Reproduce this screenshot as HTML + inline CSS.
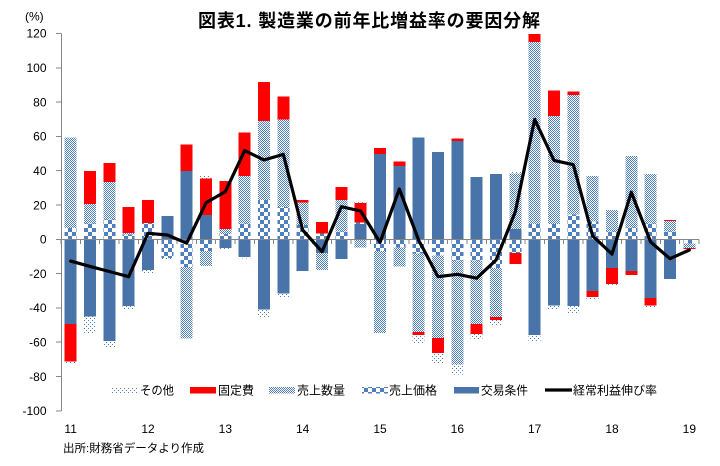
<!DOCTYPE html>
<html><head><meta charset="utf-8"><style>
html,body{margin:0;padding:0;background:#fff;}
svg{display:block;}
text{font-family:"Liberation Sans","Noto Sans CJK JP",sans-serif;fill:#000;}
</style></head><body>
<svg width="720" height="466" viewBox="0 0 720 466" xmlns="http://www.w3.org/2000/svg">
<defs>
<pattern id="pP" width="8" height="8" patternUnits="userSpaceOnUse"><rect width="8" height="8" fill="#fff"/><rect width="4" height="4" fill="#4f7fbd"/><rect x="4" y="4" width="4" height="4" fill="#4f7fbd"/></pattern>
<pattern id="pQ" width="2" height="2" patternUnits="userSpaceOnUse"><rect width="2" height="2" fill="#fff"/><rect width="1" height="1" fill="#4f7fbd"/><rect x="1" y="1" width="1" height="1" fill="#4f7fbd"/></pattern>
<pattern id="pO" width="4" height="4" patternUnits="userSpaceOnUse"><rect width="4" height="4" fill="#fff"/><rect width="1" height="1" fill="#4f7fbd"/><rect x="2" y="2" width="1" height="1" fill="#4f7fbd"/></pattern>

<mask id="mP" maskUnits="userSpaceOnUse" x="0" y="0" width="720" height="466">
<g transform="translate(0,239.5) scale(1,-1.7155)" fill="#fff" shape-rendering="crispEdges">
<rect x="64.67" y="0" width="12" height="6.8"/>
<rect x="84" y="0" width="12" height="9.3"/>
<rect x="103.33" y="0" width="12" height="11.7"/>
<rect x="122.67" y="0" width="12" height="3"/>
<rect x="142" y="0" width="12" height="9.7"/>
<rect x="161.33" y="-10.7" width="12" height="10.7"/>
<rect x="180.67" y="-16" width="12" height="16"/>
<rect x="200" y="-6.8" width="12" height="6.8"/>
<rect x="219.33" y="0" width="12" height="3.1"/>
<rect x="238.67" y="0" width="12" height="9.3"/>
<rect x="258" y="0" width="12" height="22.9"/>
<rect x="277.33" y="0" width="12" height="19"/>
<rect x="296.67" y="0" width="12" height="8.5"/>
<rect x="316" y="0" width="12" height="3.5"/>
<rect x="335.33" y="0" width="12" height="4.6"/>
<rect x="354.67" y="8.9" width="12" height="1.1"/>
<rect x="374" y="-6.8" width="12" height="6.8"/>
<rect x="393.33" y="-4.7" width="12" height="4.7"/>
<rect x="412.67" y="-8.2" width="12" height="8.2"/>
<rect x="432" y="-9.3" width="12" height="9.3"/>
<rect x="451.33" y="-12.1" width="12" height="12.1"/>
<rect x="470.67" y="-12.1" width="12" height="12.1"/>
<rect x="490" y="-16.7" width="12" height="16.7"/>
<rect x="509.33" y="-8" width="12" height="8"/>
<rect x="528.67" y="0" width="12" height="9.1"/>
<rect x="548" y="0" width="12" height="9.1"/>
<rect x="567.33" y="0" width="12" height="14.6"/>
<rect x="586.67" y="0" width="12" height="10.5"/>
<rect x="606" y="0" width="12" height="4.6"/>
<rect x="625.33" y="0" width="12" height="7"/>
<rect x="644.67" y="0" width="12" height="9.3"/>
<rect x="664" y="0" width="12" height="4.6"/>
<rect x="683.33" y="-2.3" width="12" height="2.3"/>
</g></mask>

<mask id="mQ" maskUnits="userSpaceOnUse" x="0" y="0" width="720" height="466">
<g transform="translate(0,239.5) scale(1,-1.7155)" fill="#fff" shape-rendering="crispEdges">
<rect x="64.67" y="6.8" width="12" height="52.7"/>
<rect x="84" y="9.3" width="12" height="11.5"/>
<rect x="103.33" y="11.7" width="12" height="21.7"/>
<rect x="122.67" y="3" width="12" height="0.7"/>
<rect x="180.67" y="-57.7" width="12" height="41.7"/>
<rect x="200" y="-15.4" width="12" height="8.6"/>
<rect x="219.33" y="3.1" width="12" height="2.9"/>
<rect x="238.67" y="9.3" width="12" height="27.8"/>
<rect x="258" y="22.9" width="12" height="46.2"/>
<rect x="277.33" y="19" width="12" height="50.9"/>
<rect x="296.67" y="8.5" width="12" height="13.2"/>
<rect x="316" y="-17.9" width="12" height="10.1"/>
<rect x="335.33" y="4.6" width="12" height="18.3"/>
<rect x="354.67" y="-4.7" width="12" height="4.7"/>
<rect x="374" y="-54.4" width="12" height="47.6"/>
<rect x="393.33" y="-15.6" width="12" height="10.9"/>
<rect x="412.67" y="-53.8" width="12" height="45.6"/>
<rect x="432" y="-57.5" width="12" height="48.2"/>
<rect x="451.33" y="-72.9" width="12" height="60.8"/>
<rect x="470.67" y="-49.4" width="12" height="37.3"/>
<rect x="490" y="-45.1" width="12" height="28.4"/>
<rect x="509.33" y="6" width="12" height="32.5"/>
<rect x="528.67" y="9.1" width="12" height="106.1"/>
<rect x="548" y="9.1" width="12" height="62.8"/>
<rect x="567.33" y="14.6" width="12" height="69.5"/>
<rect x="586.67" y="10.5" width="12" height="26.4"/>
<rect x="606" y="4.6" width="12" height="12.5"/>
<rect x="625.33" y="7" width="12" height="41.6"/>
<rect x="644.67" y="9.3" width="12" height="28.8"/>
<rect x="664" y="4.6" width="12" height="6.1"/>
<rect x="683.33" y="-4.9" width="12" height="2.6"/>
</g></mask>

<mask id="mO" maskUnits="userSpaceOnUse" x="0" y="0" width="720" height="466">
<g transform="translate(0,239.5) scale(1,-1.7155)" fill="#fff" shape-rendering="crispEdges">
<rect x="64.67" y="-72" width="12" height="1"/>
<rect x="84" y="-54.4" width="12" height="9.4"/>
<rect x="103.33" y="-62.6" width="12" height="3.5"/>
<rect x="122.67" y="-40.4" width="12" height="1.5"/>
<rect x="142" y="-19.4" width="12" height="1.5"/>
<rect x="161.33" y="13.8" width="12" height="0.6"/>
<rect x="161.33" y="-11.3" width="12" height="0.6"/>
<rect x="200" y="35.7" width="12" height="1.2"/>
<rect x="219.33" y="-5.6" width="12" height="0.7"/>
<rect x="238.67" y="-11.2" width="12" height="1.1"/>
<rect x="258" y="-45.1" width="12" height="4.3"/>
<rect x="277.33" y="-33.8" width="12" height="2.3"/>
<rect x="354.67" y="21.2" width="12" height="0.8"/>
<rect x="412.67" y="-60.3" width="12" height="4.7"/>
<rect x="432" y="-71.9" width="12" height="5.8"/>
<rect x="451.33" y="-78.7" width="12" height="5.8"/>
<rect x="470.67" y="-58.7" width="12" height="3.7"/>
<rect x="490" y="-49.8" width="12" height="2.9"/>
<rect x="509.33" y="38.5" width="12" height="0.9"/>
<rect x="528.67" y="-59.1" width="12" height="3.3"/>
<rect x="548" y="-40.4" width="12" height="1.9"/>
<rect x="567.33" y="-42.8" width="12" height="3.9"/>
<rect x="586.67" y="-34.6" width="12" height="1.2"/>
<rect x="606" y="-26.6" width="12" height="0.6"/>
<rect x="644.67" y="-39.3" width="12" height="0.8"/>
</g></mask>
</defs>

<!-- Title -->
<text x="198" y="27" font-size="18" font-weight="bold" textLength="342" lengthAdjust="spacing">図表1. 製造業の前年比増益率の要因分解</text>
<text x="25" y="20.5" font-size="12">(%)</text>

<!-- Y labels -->
<g font-size="12" text-anchor="end">
<text x="46.5" y="37.7">120</text>
<text x="46.5" y="72.0">100</text>
<text x="46.5" y="106.4">80</text>
<text x="46.5" y="140.7">60</text>
<text x="46.5" y="175.0">40</text>
<text x="46.5" y="209.3">20</text>
<text x="46.5" y="243.6">0</text>
<text x="46.5" y="277.9">-20</text>
<text x="46.5" y="312.2">-40</text>
<text x="46.5" y="346.5">-60</text>
<text x="46.5" y="380.8">-80</text>
<text x="46.5" y="415.1">-100</text>
</g>

<!-- Patterned segments -->
<rect x="0" y="0" width="720" height="466" fill="url(#pP)" mask="url(#mP)"/>
<rect x="0" y="0" width="720" height="466" fill="url(#pQ)" mask="url(#mQ)"/>
<rect x="0" y="0" width="720" height="466" fill="url(#pO)" mask="url(#mO)"/>

<!-- Solid segments -->
<g transform="translate(0,239.5) scale(1,-1.7155)" shape-rendering="crispEdges">
<g fill="#4874aa">
<rect x="64.67" y="-49.4" width="12" height="49.4"/>
<rect x="84" y="-45" width="12" height="45"/>
<rect x="103.33" y="-59.1" width="12" height="59.1"/>
<rect x="122.67" y="-38.9" width="12" height="38.9"/>
<rect x="142" y="-17.9" width="12" height="17.9"/>
<rect x="161.33" y="0" width="12" height="13.8"/>
<rect x="180.67" y="0" width="12" height="39.8"/>
<rect x="200" y="0" width="12" height="14.2"/>
<rect x="219.33" y="-4.9" width="12" height="4.9"/>
<rect x="238.67" y="-10.1" width="12" height="10.1"/>
<rect x="258" y="-40.8" width="12" height="40.8"/>
<rect x="277.33" y="-31.5" width="12" height="31.5"/>
<rect x="296.67" y="-18.3" width="12" height="18.3"/>
<rect x="316" y="-7.8" width="12" height="7.8"/>
<rect x="335.33" y="-11.3" width="12" height="11.3"/>
<rect x="354.67" y="0" width="12" height="8.9"/>
<rect x="374" y="0" width="12" height="49.9"/>
<rect x="393.33" y="0" width="12" height="42.9"/>
<rect x="412.67" y="0" width="12" height="59.6"/>
<rect x="432" y="0" width="12" height="50.9"/>
<rect x="451.33" y="0" width="12" height="57.3"/>
<rect x="470.67" y="0" width="12" height="36.3"/>
<rect x="490" y="0" width="12" height="38.1"/>
<rect x="509.33" y="0" width="12" height="6"/>
<rect x="528.67" y="-55.8" width="12" height="55.8"/>
<rect x="548" y="-38.5" width="12" height="38.5"/>
<rect x="567.33" y="-38.9" width="12" height="38.9"/>
<rect x="586.67" y="-30.1" width="12" height="30.1"/>
<rect x="606" y="-16.5" width="12" height="16.5"/>
<rect x="625.33" y="-18.3" width="12" height="18.3"/>
<rect x="644.67" y="-34" width="12" height="34"/>
<rect x="664" y="-22.9" width="12" height="22.9"/>
</g>
<g fill="#ff0000">
<rect x="64.67" y="-71" width="12" height="21.6"/>
<rect x="84" y="20.8" width="12" height="19"/>
<rect x="103.33" y="33.4" width="12" height="11.1"/>
<rect x="122.67" y="3.7" width="12" height="15.1"/>
<rect x="142" y="9.7" width="12" height="13.2"/>
<rect x="180.67" y="39.8" width="12" height="15.7"/>
<rect x="200" y="14.2" width="12" height="21.5"/>
<rect x="219.33" y="6" width="12" height="28"/>
<rect x="238.67" y="37.1" width="12" height="25.4"/>
<rect x="258" y="69.1" width="12" height="22.6"/>
<rect x="277.33" y="69.9" width="12" height="13.6"/>
<rect x="296.67" y="21.7" width="12" height="1.2"/>
<rect x="316" y="3.5" width="12" height="6.6"/>
<rect x="335.33" y="22.9" width="12" height="7.6"/>
<rect x="354.67" y="10" width="12" height="11.2"/>
<rect x="374" y="49.9" width="12" height="3.3"/>
<rect x="393.33" y="42.9" width="12" height="2.7"/>
<rect x="412.67" y="-55.6" width="12" height="1.8"/>
<rect x="432" y="-66.1" width="12" height="8.6"/>
<rect x="451.33" y="57.3" width="12" height="1.7"/>
<rect x="470.67" y="-55" width="12" height="5.6"/>
<rect x="490" y="-46.9" width="12" height="1.8"/>
<rect x="509.33" y="-14.4" width="12" height="6.4"/>
<rect x="528.67" y="115.2" width="12" height="4.5"/>
<rect x="548" y="71.9" width="12" height="15.1"/>
<rect x="567.33" y="84.1" width="12" height="2.3"/>
<rect x="586.67" y="-33.4" width="12" height="3.3"/>
<rect x="606" y="-26" width="12" height="9.5"/>
<rect x="625.33" y="-20.8" width="12" height="2.5"/>
<rect x="644.67" y="-38.5" width="12" height="4.5"/>
<rect x="664" y="10.7" width="12" height="0.6"/>
<rect x="683.33" y="-5.5" width="12" height="0.6"/>
</g>
</g>

<!-- Axes -->
<g stroke="#868686" stroke-width="1" shape-rendering="crispEdges" fill="none">
<line x1="61.5" y1="33.4" x2="61.5" y2="411"/>
<path d="M56 33.5H61M56 67.8H61M56 102.1H61M56 136.4H61M56 170.7H61M56 205H61M56 239.5H61M56 273.6H61M56 307.9H61M56 342.2H61M56 376.5H61M56 410.8H61"/>
<line x1="61" y1="239.5" x2="699" y2="239.5"/>
<path d="M61 239.5V244M80.33 239.5V244M99.67 239.5V244M119 239.5V244M138.33 239.5V244M157.67 239.5V244M177 239.5V244M196.33 239.5V244M215.67 239.5V244M235 239.5V244M254.33 239.5V244M273.67 239.5V244M293 239.5V244M312.33 239.5V244M331.67 239.5V244M351 239.5V244M370.33 239.5V244M389.67 239.5V244M409 239.5V244M428.33 239.5V244M447.67 239.5V244M467 239.5V244M486.33 239.5V244M505.67 239.5V244M525 239.5V244M544.33 239.5V244M563.67 239.5V244M583 239.5V244M602.33 239.5V244M621.67 239.5V244M641 239.5V244M660.33 239.5V244M679.67 239.5V244M699 239.5V244"/>
</g>

<!-- Line series -->
<polyline fill="none" stroke="#000" stroke-width="3.2" stroke-linejoin="round" stroke-linecap="round" points="70.67,261.1 90,266.4 109.33,271.5 128.67,276.7 148,233.3 167.33,235 186.67,243.2 206,202.8 225.33,191.6 244.67,150.6 264,160 283.33,154.4 302.67,230 322,251.7 341.33,206.7 360.67,211 380,242.4 399.33,189 418.67,240.2 438,276.7 457.33,274.3 476.67,278.2 496,260.1 515.33,211.7 534.67,119.4 554,160.4 573.33,164.7 592.67,236 612,254.1 631.33,192.3 650.67,242 670,258.7 689.33,250"/>

<!-- X labels -->
<g font-size="12" text-anchor="middle">
<text x="70.67" y="433">11</text>
<text x="148" y="433">12</text>
<text x="225.33" y="433">13</text>
<text x="302.67" y="433">14</text>
<text x="380" y="433">15</text>
<text x="457.33" y="433">16</text>
<text x="534.67" y="433">17</text>
<text x="612" y="433">18</text>
<text x="689.33" y="433">19</text>
</g>

<!-- Legend -->
<g shape-rendering="crispEdges">
<rect x="112" y="387" width="25" height="6.5" fill="url(#pO)"/>
<rect x="190" y="387" width="26" height="6.5" fill="#ff0000"/>
<rect x="269" y="387" width="26" height="6.5" fill="url(#pQ)"/>
<rect x="362" y="387" width="26" height="6.5" fill="url(#pP)"/>
<rect x="454" y="387" width="25" height="6.5" fill="#4874aa"/>
</g>
<line x1="545" y1="390" x2="572" y2="390" stroke="#000" stroke-width="3.2"/>
<g font-size="12">
<text x="140" y="394.5" textLength="34" lengthAdjust="spacingAndGlyphs">その他</text>
<text x="218" y="394.5" textLength="36" lengthAdjust="spacingAndGlyphs">固定費</text>
<text x="297" y="394.5" textLength="48" lengthAdjust="spacingAndGlyphs">売上数量</text>
<text x="389" y="394.5" textLength="48" lengthAdjust="spacingAndGlyphs">売上価格</text>
<text x="481" y="394.5" textLength="47" lengthAdjust="spacingAndGlyphs">交易条件</text>
<text x="573" y="394.5" textLength="84" lengthAdjust="spacingAndGlyphs">経常利益伸び率</text>
</g>

<!-- Source -->
<text x="63" y="452" font-size="11.3" textLength="141" lengthAdjust="spacingAndGlyphs">出所:財務省データより作成</text>
</svg>
</body></html>
